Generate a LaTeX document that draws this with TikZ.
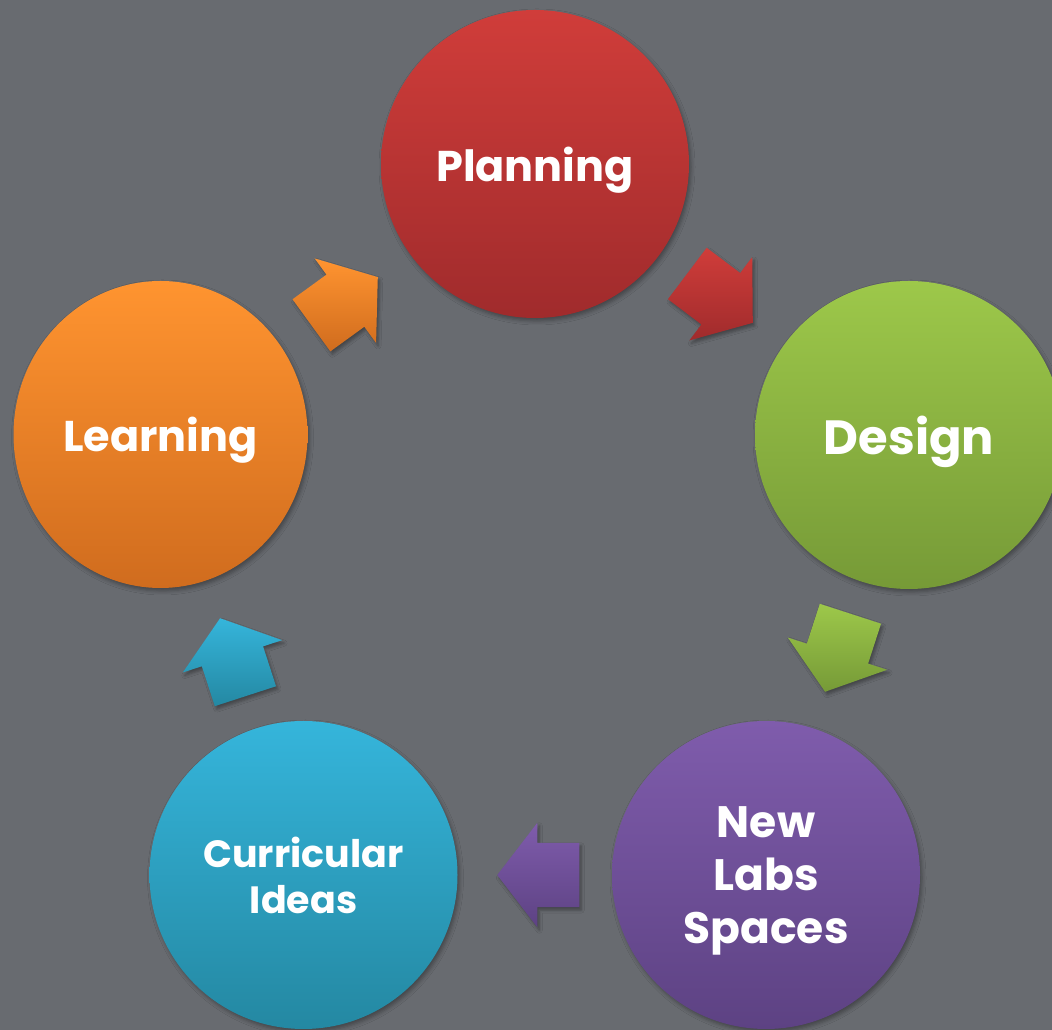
\documentclass[tikz,border=0pt]{standalone}
\usepackage{fontspec}
\setmainfont{Poppins}
\usetikzlibrary{shapes.geometric,shapes.arrows,shadows.blur}
\definecolor{slate}{HTML}{686B70}
\definecolor{redtop}{HTML}{D03D3A}
\definecolor{redbot}{HTML}{A02B2C}
\definecolor{greentop}{HTML}{9DC84A}
\definecolor{greenbot}{HTML}{769A37}
\definecolor{purpletop}{HTML}{7F5CAC}
\definecolor{purplebot}{HTML}{5D4283}
\definecolor{tealtop}{HTML}{35B5DB}
\definecolor{tealbot}{HTML}{2488A2}
\definecolor{orangetop}{HTML}{FF9430}
\definecolor{orangebot}{HTML}{D06C1E}

\begin{document}
\begin{tikzpicture}[x=1pt,y=1pt,
	stage/.style={circle,minimum size=308pt,inner sep=0pt,text=white,align=center,text depth=0pt,
		blur shadow={shadow xshift=2pt,shadow yshift=-3pt,shadow blur radius=4pt,shadow opacity=35}},
	turn/.style={single arrow,anchor=tip,minimum height=82pt,minimum width=104pt,single arrow head extend=20pt,
		single arrow tip angle=105,inner xsep=0pt,inner ysep=32pt,
		blur shadow={shadow xshift=2pt,shadow yshift=-3pt,shadow blur radius=3pt,shadow opacity=35}}]
	\useasboundingbox (0,0) rectangle (1052,1030);
	\fill[slate] (0,0) rectangle (1052,1030);
	\clip (0,0) rectangle (1052,1030);
	\node[stage,top color=redtop,bottom color=redbot,font=\bfseries\fontsize{43}{50}\selectfont] (planning) at (535,866) {Planning};
	\node[stage,top color=greentop,bottom color=greenbot,font=\bfseries\fontsize{48}{55}\selectfont] (design) at (909,595) {Design};
	\node[stage,top color=purpletop,bottom color=purplebot,font=\bfseries\fontsize{44}{53}\selectfont] (labs) at (766,155) {New\\Labs\\Spaces};
	\node[stage,top color=tealtop,bottom color=tealbot,font=\bfseries\fontsize{38}{46}\selectfont] (curricular) at (303.5,155) {Curricular\\Ideas};
	\node[stage,ellipse,minimum width=294pt,minimum height=307pt,top color=orangetop,bottom color=orangebot] (learning) at (160.5,595.5) {};
	\node[text=white,font=\bfseries\fontsize{43}{50}\selectfont] (learningtext) at (160.5,590) {Learning};
	\node[turn,rotate=-37,top color=redtop,bottom color=redbot] (pd) at (753,707) {};
	\node[turn,rotate=-108,top color=greentop,bottom color=greenbot] (dl) at (825,338) {};
	\node[turn,rotate=180,top color=purpletop,bottom color=purplebot] (lc) at (497,155) {};
	\node[turn,rotate=108,top color=tealtop,bottom color=tealbot] (cl) at (220,412) {};
	\node[turn,rotate=36,top color=orangetop,bottom color=orangebot] (lp) at (378,753) {};
\end{tikzpicture}
\end{document}
